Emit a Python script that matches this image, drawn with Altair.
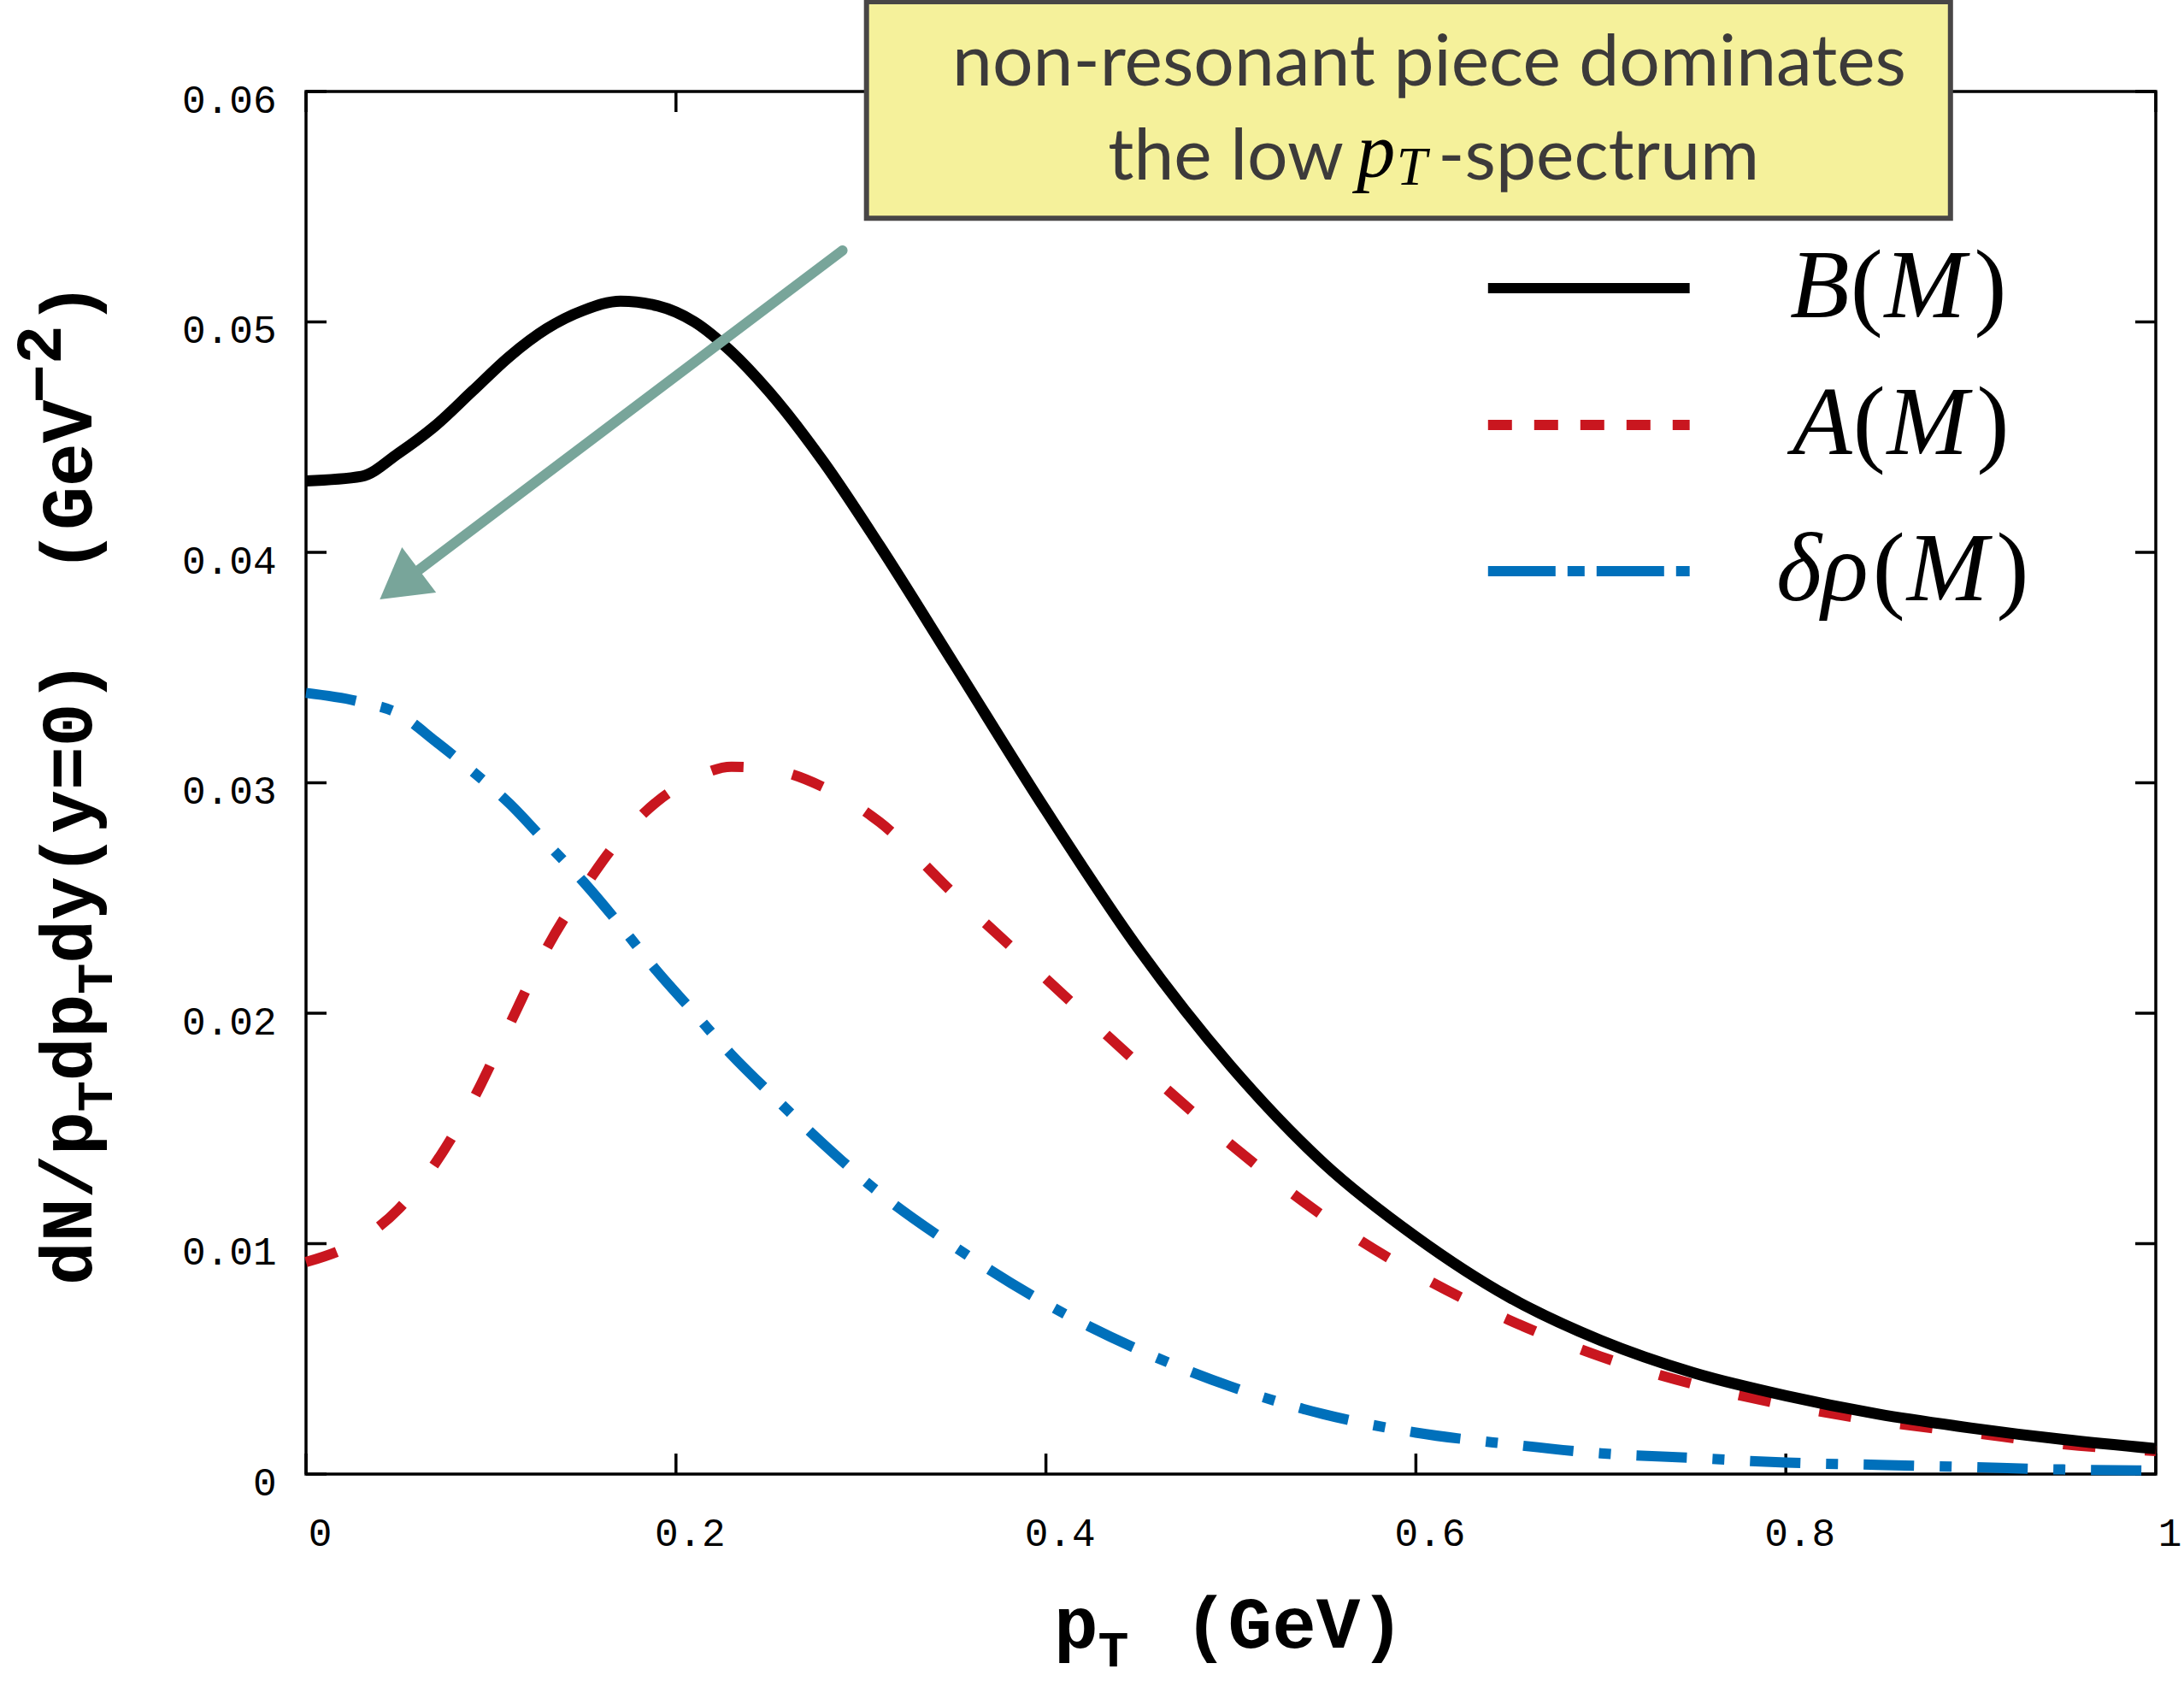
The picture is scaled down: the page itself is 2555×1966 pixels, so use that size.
import altair as alt
import pandas as pd

# ---------------- data ----------------
pT = [0.00, 0.03, 0.05, 0.07, 0.09, 0.11, 0.13, 0.15, 0.17, 0.19, 0.21, 0.23, 0.25,
      0.28, 0.31, 0.35, 0.40, 0.45, 0.50, 0.55, 0.60, 0.65, 0.70, 0.75, 0.80, 0.85,
      0.90, 0.95, 1.00]
B_M = [0.0431, 0.0433, 0.0443, 0.0455, 0.0470, 0.0485, 0.0497, 0.0505, 0.0509, 0.0507,
       0.0500, 0.0487, 0.0470, 0.0439, 0.0403, 0.0352, 0.0288, 0.0228, 0.0177, 0.0135,
       0.0103, 0.0077, 0.0058, 0.0044, 0.0034, 0.0026, 0.0020, 0.0015, 0.0011]
A_M = [0.0092, 0.0102, 0.0115, 0.0135, 0.0162, 0.0195, 0.0228, 0.0254, 0.0276, 0.0292,
       0.0302, 0.0307, 0.0306, 0.0298, 0.0283, 0.0252, 0.0215, 0.0178, 0.0143, 0.0112,
       0.0087, 0.0067, 0.0051, 0.0039, 0.0030, 0.0023, 0.0018, 0.0013, 0.0010]
DRHO_M = [0.0339, 0.0335, 0.0330, 0.0318, 0.0305, 0.0291, 0.0274, 0.0257, 0.0238, 0.0218,
          0.0200, 0.0182, 0.0166, 0.0143, 0.0122, 0.0099, 0.0074, 0.0054, 0.0038, 0.0026,
          0.0018, 0.0013, 0.0009, 0.0007, 0.0005, 0.0004, 0.0003, 0.0002, 0.00015]

x_ticks = [0, 0.2, 0.4, 0.6, 0.8, 1.0]
y_ticks = [0, 0.01, 0.02, 0.03, 0.04, 0.05, 0.06]

# legend entries: (symbol pieces, italic flag per piece)
legend_labels = [[("B", True), ("(", False), ("M", True), (")", False)],
                 [("A", True), ("(", False), ("M", True), (")", False)],
                 [("δρ", True), ("(", False), ("M", True), (")", False)]]
legend_y = [0.05147, 0.04553, 0.03918]
legend_x = [0.639, 0.748]
legend_text_left = [0.8022, 0.8036, 0.7948]

note_line1 = "non-resonant piece dominates"
note_line2 = ["the low", "p", "T", "-spectrum"]
box_x = [0.303, 0.889]
box_y = [0.0545, 0.0639]

arrow_tail = [0.290, 0.0531]
arrow_head = [0.0505, 0.0386]

# ---------------- layout ----------------
W, H = 2164, 1617
PADL, PADT = 358, 107
MONO = "Liberation Mono"
SERIF = "Liberation Serif"
NBSP = "\u00a0"

xs = alt.Scale(domain=[0, 1], nice=False, zero=False)
ys = alt.Scale(domain=[0, 0.06], nice=False, zero=False)

ax_x = alt.Axis(title=None, values=x_ticks, ticks=False, domain=False, grid=False,
                labelFont=MONO, labelFontSize=46, labelColor="black",
                labelPadding=47, labelOffset=16, labelFlush=False, labelOverlap=False,
                labelExpr="datum.value == 0 ? '0' : datum.value == 1 ? '1' : format(datum.value, '.1f')")
ax_y = alt.Axis(title=None, values=y_ticks, ticks=False, domain=False, grid=False,
                labelFont=MONO, labelFontSize=46, labelColor="black",
                labelPadding=35, labelOffset=10, labelFlush=False, labelOverlap=False,
                labelExpr="datum.value == 0 ? '0' : format(datum.value, '.2f')")


def X(f):
    return alt.X(f, type="quantitative", scale=xs, axis=ax_x)


def Y(f):
    return alt.Y(f, type="quantitative", scale=ys, axis=ax_y)


layers = []

# inward ticks on all four sides
ydf = pd.DataFrame({"v": y_ticks})
xdf = pd.DataFrame({"v": x_ticks})
TL = 24
layers.append(alt.Chart(ydf).mark_rule(color="black", strokeWidth=3.5).encode(
    y=Y("v"), x=alt.value(0), x2=alt.value(TL)))
layers.append(alt.Chart(ydf).mark_rule(color="black", strokeWidth=3.5).encode(
    y=Y("v"), x=alt.value(W - TL), x2=alt.value(W)))
layers.append(alt.Chart(xdf).mark_rule(color="black", strokeWidth=3.5).encode(
    x=X("v"), y=alt.value(H), y2=alt.value(H - TL)))
layers.append(alt.Chart(xdf).mark_rule(color="black", strokeWidth=3.5).encode(
    x=X("v"), y=alt.value(0), y2=alt.value(TL)))

# curves
curves = pd.DataFrame({"pT": pT, "B": B_M, "A": A_M, "D": DRHO_M})
layers.append(alt.Chart(curves).mark_line(color="#0070BB", strokeWidth=12,
                                          strokeDash=[59, 30, 14, 30],
                                          interpolate="monotone").encode(x=X("pT"), y=Y("D")))
layers.append(alt.Chart(curves).mark_line(color="#C9161F", strokeWidth=12,
                                          strokeDash=[38, 58],
                                          interpolate="monotone").encode(x=X("pT"), y=Y("A")))
layers.append(alt.Chart(curves).mark_line(color="black", strokeWidth=13,
                                          interpolate="monotone").encode(x=X("pT"), y=Y("B")))

# arrow
arr = pd.DataFrame({"x1": [arrow_tail[0]], "y1": [arrow_tail[1]],
                    "x2": [arrow_head[0]], "y2": [arrow_head[1]]})
layers.append(alt.Chart(arr).mark_rule(color="#78A59A", strokeWidth=12, strokeCap="round").encode(
    x=X("x1"), y=Y("y1"), x2="x2", y2="y2"))
layers.append(alt.Chart(arr).mark_point(shape="triangle-up", filled=True, size=4400, angle=233,
                                        color="#78A59A", opacity=1).encode(x=X("x2"), y=Y("y2")))

# annotation box
box = pd.DataFrame({"x1": [box_x[0]], "x2": [box_x[1]], "y1": [box_y[0]], "y2": [box_y[1]]})
layers.append(alt.Chart(box).mark_rect(fill="#F5F19B", stroke="#484646", strokeWidth=6).encode(
    x=X("x1"), x2="x2", y=Y("y1"), y2="y2"))

NOTE_C = "#3C3A3A"
NOTE_F = 84
n1 = pd.DataFrame({"t": [note_line1], "x": [0.6072], "y": [0.06026]})
layers.append(alt.Chart(n1).mark_text(font="Lato", fontSize=NOTE_F, color=NOTE_C, align="center",
                                      baseline="alphabetic").encode(x=X("x"), y=Y("y"), text="t:N"))
n2a = pd.DataFrame({"t": [note_line2[0]], "x": [0.5610], "y": [0.05618]})
layers.append(alt.Chart(n2a).mark_text(font="Lato", fontSize=NOTE_F, color=NOTE_C, align="right",
                                       baseline="alphabetic").encode(x=X("x"), y=Y("y"), text="t:N"))
n2b = pd.DataFrame({"t": [note_line2[1]], "x": [0.5680], "y": [0.05630]})
layers.append(alt.Chart(n2b).mark_text(font=SERIF, fontStyle="italic", fontSize=90,
                                       color="black", align="left", baseline="alphabetic").encode(
    x=X("x"), y=Y("y"), text="t:N"))
n2c = pd.DataFrame({"t": [note_line2[2]], "x": [0.5895], "y": [0.05595]})
layers.append(alt.Chart(n2c).mark_text(font=SERIF, fontStyle="italic", fontSize=64,
                                       color="black", align="left", baseline="alphabetic").encode(
    x=X("x"), y=Y("y"), text="t:N"))
n2d = pd.DataFrame({"t": [note_line2[3]], "x": [0.6120], "y": [0.05618]})
layers.append(alt.Chart(n2d).mark_text(font="Lato", fontSize=NOTE_F, color=NOTE_C, align="left",
                                       baseline="alphabetic").encode(x=X("x"), y=Y("y"), text="t:N"))

# legend (samples + math-style labels: italic letters, upright parentheses)
LEG_F = 114
ADV = {"B": 0.62, "A": 0.62, "M": 0.92, "δρ": 0.99, "(": 0.35, ")": 0.333}
leg_styles = [dict(color="black", strokeWidth=12),
              dict(color="#C9161F", strokeWidth=12, strokeDash=[28, 26]),
              dict(color="#0070BB", strokeWidth=12, strokeDash=[79, 14, 20, 14])]
for pieces, ly, st, lx in zip(legend_labels, legend_y, leg_styles, legend_text_left):
    d = pd.DataFrame({"x1": [legend_x[0]], "x2": [legend_x[1]], "y": [ly]})
    layers.append(alt.Chart(d).mark_rule(**st).encode(x=X("x1"), x2="x2", y=Y("y")))
    cur = lx
    for txt, ital in pieces:
        t = pd.DataFrame({"t": [txt], "x": [cur], "y": [ly]})
        layers.append(alt.Chart(t).mark_text(font=SERIF, fontStyle="italic" if ital else "normal",
                                             fontSize=LEG_F, color="black", align="left",
                                             baseline="middle").encode(
            x=X("x"), y=Y("y"), text="t:N"))
        cur += ADV[txt] * LEG_F / W

# axis titles (monospace bold with sub/superscripts), pixel placement
F, FS, FSUP = 84.5, 60, 76
ypieces = [("dN/p", "main"), ("T", "sub"), ("dp", "main"), ("T", "sub"),
           ("dy(y=0)" + NBSP + NBSP + "(GeV", "main"), ("\u22122", "sup"), (")", "main")]
bx, by = 107, 1503
pos = by
for txt, kind in ypieces:
    size = {"main": F, "sub": FS, "sup": FSUP}[kind]
    xoff = {"main": 0, "sub": 24, "sup": -36}[kind]
    start = pos + (4 if kind == "sup" else 0)
    d = pd.DataFrame({"t": [txt]})
    layers.append(alt.Chart(d).mark_text(font=MONO, fontWeight="bold", fontSize=size, color="black",
                                         angle=270, align="left", baseline="alphabetic").encode(
        x=alt.value(bx + xoff - PADL), y=alt.value(start - PADT), text="t:N"))
    pos = start - len(txt) * 0.6 * size

FX = 86
xpieces = [("p", 1233, 1927, FX), ("T", 1233 + 0.6 * FX, 1949, FS), ("(GeV)", 1385, 1927, FX)]
for txt, px, py, size in xpieces:
    d = pd.DataFrame({"t": [txt]})
    layers.append(alt.Chart(d).mark_text(font=MONO, fontWeight="bold", fontSize=size, color="black",
                                         align="left", baseline="alphabetic").encode(
        x=alt.value(px - PADL), y=alt.value(py - PADT), text="t:N"))

chart = alt.layer(*layers).properties(
    width=W, height=H,
    autosize=alt.AutoSizeParams(type="none"),
    padding={"left": PADL, "top": PADT, "right": 2555 - PADL - W, "bottom": 1966 - PADT - H},
    background="white",
).configure_view(stroke="black", strokeWidth=3.5)

chart.save("out.html", embed_options={"renderer": "svg", "actions": False})
